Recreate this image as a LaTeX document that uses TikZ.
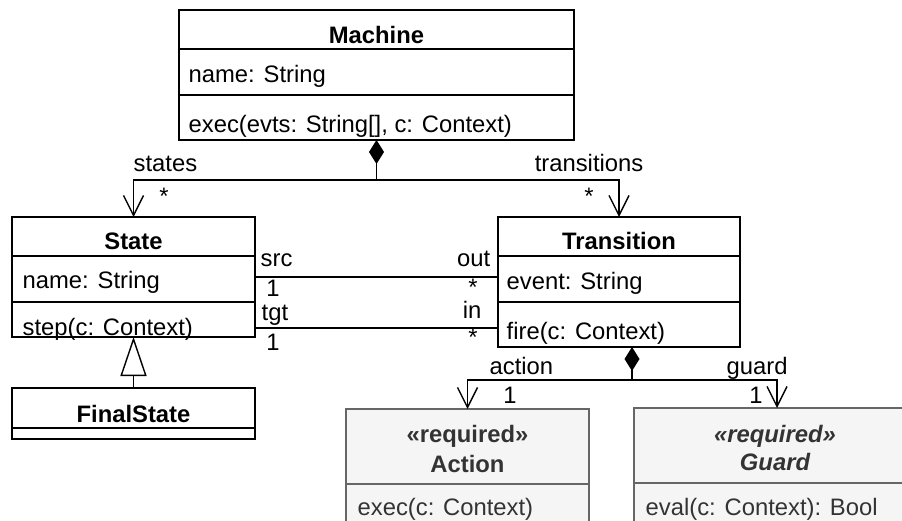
\documentclass[tikz,border=0pt]{standalone}
\usepackage{fontspec}
\setmainfont{Liberation Sans}
\usetikzlibrary{arrows.meta}
\definecolor{reqfill}{HTML}{F5F5F5}
\definecolor{reqline}{HTML}{666666}
\definecolor{reqtext}{HTML}{333333}
\begin{document}
\begin{tikzpicture}[x=1pt,y=-1pt,
  font=\fontsize{23.8}{28}\selectfont,
  line width=1.4pt,
  box/.style={draw, fill=white, anchor=north west, inner sep=0pt, outer sep=0pt},
  reqbox/.style={box, draw=reqline, fill=reqfill},
  ttl/.style={inner sep=0pt, anchor=base, font=\fontsize{23.8}{28}\selectfont\bfseries},
  attr/.style={inner sep=0pt, anchor=base west},
  lblw/.style={inner sep=0pt, anchor=base west},
  lble/.style={inner sep=0pt, anchor=base east},
  lblc/.style={inner sep=0pt, anchor=base},
  star/.style={inner sep=0pt, anchor=center},
  comp/.style={{Diamond[length=24pt,width=15pt]}-},
  assoc/.style={-{Straight Barb[length=20pt,width=20pt]}},
  gen/.style={-{Triangle[length=39pt,width=26pt,fill=white]}}
]
\useasboundingbox (0,0) rectangle (902,521);
\clip (0,0) rectangle (902,521);

% Machine
\node[box, minimum width=395pt, minimum height=130pt] (machine) at (179,10) {};
\draw ([yshift=-39pt]machine.north west) -- ([yshift=-39pt]machine.north east);
\draw ([yshift=-85pt]machine.north west) -- ([yshift=-85pt]machine.north east);
\node[ttl] (machineT) at (376.5,44) {Machine};
\node[attr] (machineA) at (188,83) {name: String};
\node[attr] (machineO) at (188,133) {exec(evts: String[], c: Context)};

% State
\node[box, minimum width=243pt, minimum height=120pt] (state) at (12,217) {};
\draw ([yshift=-39pt]state.north west) -- ([yshift=-39pt]state.north east);
\draw ([yshift=-85pt]state.north west) -- ([yshift=-85pt]state.north east);
\node[ttl] (stateT) at (133.5,250) {State};
\node[attr] (stateA) at (22,288) {name: String};
\node[attr] (stateO) at (22,335) {step(c: Context)};

% Transition
\node[box, minimum width=242pt, minimum height=130pt] (transition) at (498,217) {};
\draw ([yshift=-39pt]transition.north west) -- ([yshift=-39pt]transition.north east);
\draw ([yshift=-85pt]transition.north west) -- ([yshift=-85pt]transition.north east);
\node[ttl] (transitionT) at (619,250) {Transition};
\node[attr] (transitionA) at (506,290) {event: String};
\node[attr] (transitionO) at (506,339) {fire(c: Context)};

% FinalState
\node[box, minimum width=243pt, minimum height=51pt] (finalstate) at (12,388) {};
\draw ([yshift=-40pt]finalstate.north west) -- ([yshift=-40pt]finalstate.north east);
\node[ttl] (finalT) at (133.5,422) {FinalState};

% Action
\node[reqbox, minimum width=243pt, minimum height=140pt] (action) at (346,409) {};
\draw[reqline] ([yshift=-75pt]action.north west) -- ([yshift=-75pt]action.north east);
\node[ttl, text=reqtext] (actionS) at (467.5,442) {«required»};
\node[ttl, text=reqtext] (actionT) at (467.5,472) {Action};
\node[attr, text=reqtext] (actionO) at (357,515) {exec(c: Context)};

% Guard
\node[reqbox, minimum width=286pt, minimum height=140pt] (guard) at (634,408) {};
\draw[reqline] ([yshift=-75pt]guard.north west) -- ([yshift=-75pt]guard.north east);
\node[ttl, text=reqtext, font=\fontsize{23.8}{28}\selectfont\bfseries\itshape] (guardS) at (775,442) {«required»};
\node[ttl, text=reqtext, font=\fontsize{23.8}{28}\selectfont\bfseries\itshape] (guardT) at (775,470) {Guard};
\node[attr, text=reqtext] (guardO) at (645,515) {eval(c: Context): Bool};

% Machine compositions
\coordinate (mj) at (376.5,180);
\draw[comp] (machine.south) -- (mj);
\draw[assoc] (mj) -| (state.north);
\draw[assoc] (mj) -| (transition.north);
\node[lblw] (lstates) at (133,172) {states};
\node[star] (lstatesm) at (164,196) {*};
\node[lble] (ltrans) at (644,172) {transitions};
\node[star] (ltransm) at (589,196) {*};

% src / tgt associations
\coordinate (ys) at (0,277);
\coordinate (yt) at (0,328);
\draw (state.east |- ys) -- (transition.west |- ys);
\draw (state.east |- yt) -- (transition.west |- yt);
\node[lblw] (lsrc) at (260,267) {src};
\node[lblc] (lsrcm) at (273,297) {1};
\node[lblw] (ltgt) at (261,320) {tgt};
\node[lblc] (ltgtm) at (273,350) {1};
\node[lble] (lout) at (491,267) {out};
\node[star] (loutm) at (473,287) {*};
\node[lble] (lin) at (482,319) {in};
\node[star] (linm) at (473,337) {*};

% Generalization
\draw[gen] (finalstate.north) -- (state.south);

% Transition compositions
\coordinate (tj) at (632,380);
\draw[comp] (transition.south -| tj) -- (tj);
\draw[assoc] (tj) -| (action.north);
\draw[assoc] (tj) -| (guard.north);
\node[lblw] (laction) at (489,374) {action};
\node[lblc] (lactionm) at (510,403) {1};
\node[lblw] (lguard) at (726,374) {guard};
\node[lblc] (lguardm) at (756,403) {1};
\end{tikzpicture}
\end{document}
